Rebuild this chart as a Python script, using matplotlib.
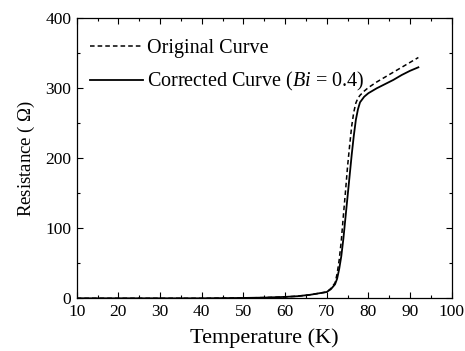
import matplotlib
matplotlib.use("Agg")
import matplotlib.pyplot as plt
from matplotlib.ticker import MultipleLocator

plt.rcParams['font.family'] = ['Liberation Serif', 'DejaVu Serif']
plt.rcParams['mathtext.fontset'] = 'custom'
plt.rcParams['mathtext.rm'] = 'Liberation Serif'
plt.rcParams['mathtext.it'] = 'Liberation Serif:italic'

temperature = [10, 20, 30, 40, 50, 55, 60, 63, 66, 68, 70, 71, 72, 72.5, 73, 73.5, 74, 74.5,
               75, 75.5, 76, 76.5, 77, 77.5, 78, 79, 80, 82, 84, 86, 88, 90, 92]
corrected = [0, 0, 0, 0, 0.5, 1, 2, 3, 5, 7, 9, 13, 20, 28, 42, 60, 85, 115,
             145, 175, 205, 232, 255, 270, 280, 288, 293, 300, 306, 312, 319, 325, 330]
original = [0, 0, 0, 0, 0.5, 1, 2, 3, 5, 7, 9, 14, 22, 35, 55, 82, 118, 152,
            188, 218, 246, 266, 279, 286, 290, 296, 301, 309, 316, 323, 330, 337, 344]

fig = plt.figure(figsize=(4.65, 3.51), dpi=100)
ax = fig.add_axes([76.7/465, 1 - 298.3/351, (451.7-76.7)/465, (298.3-18.3)/351])

ax.plot(temperature, original, color='black', linestyle=(0, (3, 2)), linewidth=1.1, label='Original Curve')
ax.plot(temperature, corrected, color='black', linestyle='-', linewidth=1.3,
        label='Corrected Curve ($Bi$ = 0.4)')

ax.set_xlim(10, 100)
ax.set_ylim(0, 400)
ax.xaxis.set_major_locator(MultipleLocator(10))
ax.xaxis.set_minor_locator(MultipleLocator(5))
ax.yaxis.set_major_locator(MultipleLocator(100))
ax.yaxis.set_minor_locator(MultipleLocator(50))
ax.tick_params(which='both', direction='in', top=True, right=True, labelsize=12.5)
ax.tick_params(axis='x', pad=4)
ax.tick_params(axis='y', pad=4)
ax.tick_params(which='major', length=4.5, width=0.8)
ax.tick_params(which='minor', length=2.5, width=0.8)
for s in ax.spines.values():
    s.set_linewidth(0.9)

ax.set_xlabel('Temperature (K)', fontsize=16, labelpad=6)
ax.set_ylabel('Resistance ( $\\Omega$)', fontsize=13.5, labelpad=6)

ax.legend(loc='upper left', frameon=False, fontsize=14.5, handlelength=2.6,
          handletextpad=0.2, borderaxespad=0.0, labelspacing=0.6,
          bbox_to_anchor=(0.015, 0.955))

fig.savefig('out.png', dpi=100)
